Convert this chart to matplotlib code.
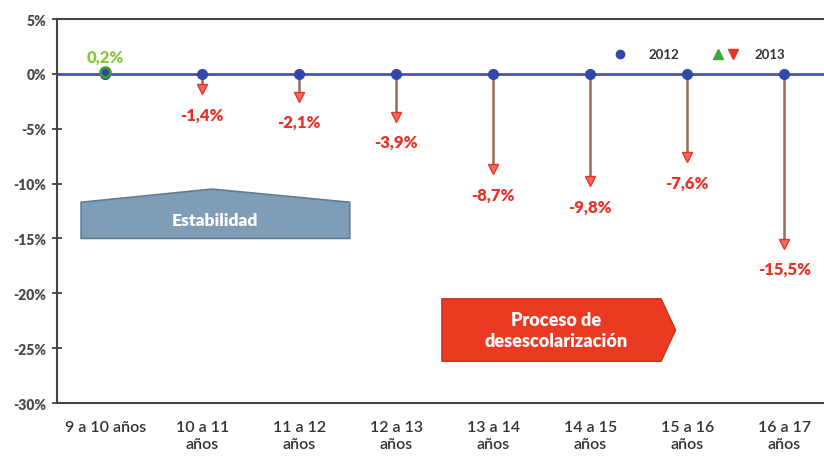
import matplotlib
matplotlib.use('Agg')
import matplotlib.pyplot as plt
from matplotlib.patches import Polygon
from matplotlib.lines import Line2D
from matplotlib.legend_handler import HandlerTuple

plt.rcParams['font.family'] = ['Lato', 'DejaVu Sans']

# data
categories = ['9 a 10 años', '10 a 11\naños', '11 a 12\naños', '12 a 13\naños',
              '13 a 14\naños', '14 a 15\naños', '15 a 16\naños', '16 a 17\naños']
base_2012 = [0, 0, 0, 0, 0, 0, 0, 0]
change_2013 = [0.2, -1.4, -2.1, -3.9, -8.7, -9.8, -7.6, -15.5]
labels_2013 = ['0,2%', '-1,4%', '-2,1%', '-3,9%', '-8,7%', '-9,8%', '-7,6%', '-15,5%']
yticks = [5, 0, -5, -10, -15, -20, -25, -30]

blue = '#3348a6'
red = '#e8332a'
green = '#8cc63f'
brown = '#9a6a55'

fig = plt.figure(figsize=(8.24, 4.6), dpi=100)
ax = fig.add_axes([0.069, 0.1217, 0.931, 0.8348])
x = list(range(len(categories)))

# zero line
ax.axhline(0, color='#4b55a8', lw=2, zorder=2)

# stems and markers
for i, v in enumerate(change_2013):
    if v < 0:
        ax.plot([i, i], [0, v], color=brown, lw=1.8, zorder=2)
ax.plot(x, base_2012, 'o', color=blue, ms=7, zorder=3)
for i, v in enumerate(change_2013):
    if v < 0:
        ax.plot(i, v, 'v', color=red, mfc='#f26b5e', ms=7, zorder=4)
        ax.text(i, v - 2.3, labels_2013[i], color=red, fontsize=12,
                fontweight='heavy', ha='center', va='center')
    else:
        ax.plot(i, v, 'o', color='#3f9a3a', mfc=blue, mew=2, ms=7, zorder=4)
        ax.text(i, v + 1.4, labels_2013[i], color=green, fontsize=12,
                fontweight='heavy', ha='center', va='center')

# Estabilidad shape
stab = Polygon([(-0.25, -15.0), (-0.25, -11.7), (1.1, -10.5), (2.52, -11.7), (2.52, -15.0)],
               closed=True, fc='#7f9db6', ec='#5f7d96', lw=1.2, zorder=1)
ax.add_patch(stab)
ax.text(1.13, -13.3, 'Estabilidad', color='white', fontsize=12.5, fontweight='heavy',
        ha='center', va='center', zorder=2)

# Proceso de desescolarización shape
proc = Polygon([(3.47, -20.5), (5.73, -20.5), (5.88, -23.35), (5.73, -26.2), (3.47, -26.2)],
               closed=True, fc='#ea3b22', ec='#c8301c', lw=1, zorder=1)
ax.add_patch(proc)
ax.text(4.65, -23.35, 'Proceso de\ndesescolarización', color='white', fontsize=13,
        fontweight='heavy', ha='center', va='center', linespacing=1.3, zorder=2)

# axes
ax.set_xlim(-0.5, 7.41)
ax.set_ylim(-30, 5)
ax.set_yticks(yticks)
ax.set_yticklabels([f'{t}%' for t in yticks])
ax.set_xticks(x)
ax.set_xticklabels(categories, va='top', linespacing=1.3)
ax.tick_params(axis='y', direction='inout', length=7, width=1.2, colors='#333333',
               labelsize=10, pad=4)
ax.tick_params(axis='x', length=0, labelsize=11.5, colors='#333333', pad=12)
for lab in ax.get_yticklabels():
    lab.set_fontweight('heavy')
    lab.set_color('#4a4a4a')
for lab in ax.get_xticklabels():
    lab.set_fontweight('semibold')
ax.spines['right'].set_visible(False)
for s in ['left', 'top', 'bottom']:
    ax.spines[s].set_color('#444444')
    ax.spines[s].set_linewidth(1.5)

# legend
h2012 = Line2D([], [], ls='none', marker='o', color=blue, ms=6)
hup = Line2D([], [], ls='none', marker='^', color='#3fa63a', ms=7)
hdown = Line2D([], [], ls='none', marker='v', color=red, ms=7)
leg = ax.legend([h2012, (hup, hdown)], ['2012', '2013'], ncol=2, frameon=False,
                loc='upper right', bbox_to_anchor=(0.965, 0.955), fontsize=9.5,
                handler_map={tuple: HandlerTuple(ndivide=None, pad=0.2)},
                columnspacing=2.5, handletextpad=1.2)
for t in leg.get_texts():
    t.set_fontweight('bold')
    t.set_color('#333333')

fig.savefig('out.png', dpi=100)
